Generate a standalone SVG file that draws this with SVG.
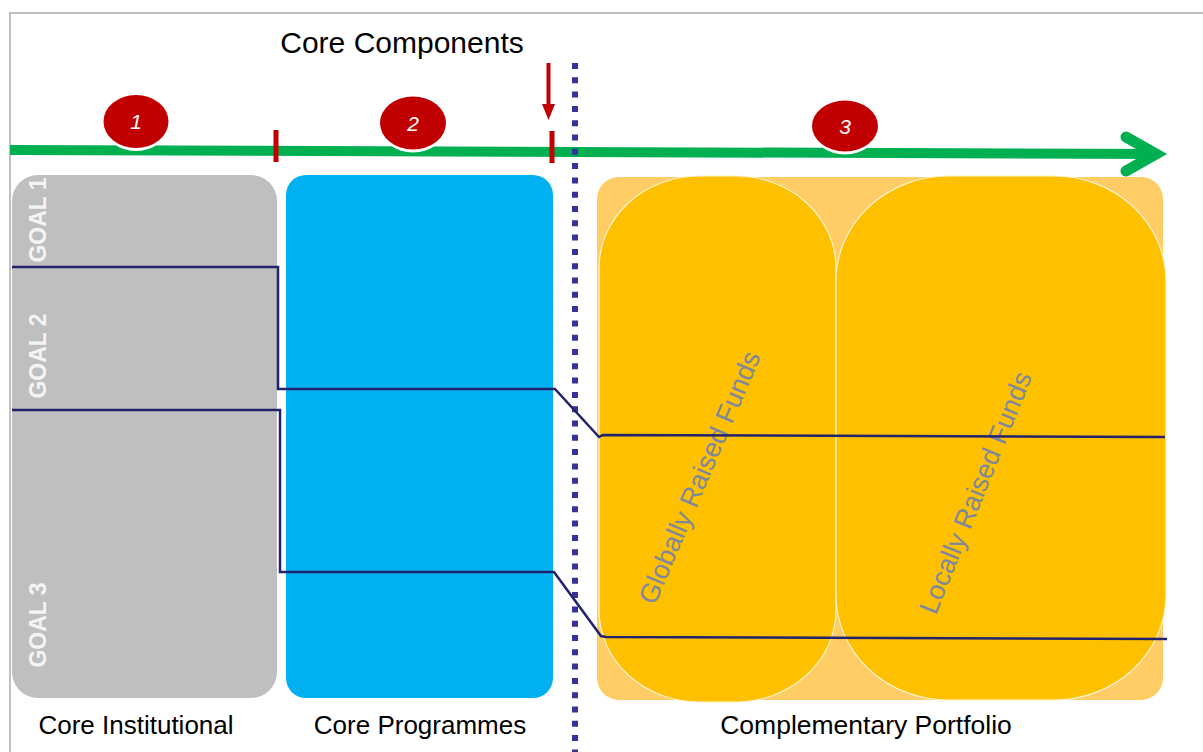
<svg xmlns="http://www.w3.org/2000/svg" width="1203" height="752" viewBox="0 0 1203 752">
<style>
  .lbl { font-family: "Liberation Sans", Arial, sans-serif; fill: #000; }
  .goal { font-family: "Liberation Sans", Arial, sans-serif; font-weight: bold; font-size: 23px; fill: #f4f4f4; text-anchor: middle; }
  .num { font-family: "Liberation Sans", Arial, sans-serif; font-style: italic; font-size: 21px; fill: #fff; text-anchor: middle; }
  .fund { font-family: "Liberation Sans", Arial, sans-serif; font-size: 27px; fill: #7d889c; text-anchor: middle; }
  .conn { fill: none; stroke: #23236b; stroke-width: 2.5; stroke-linejoin: miter; }
  .tick { fill: #c00000; }
  .pill { fill: #ffc000; stroke: #fff3d0; stroke-width: 1.2; }
</style>
<rect width="1203" height="752" fill="#fff"/>
<!-- frame -->
<path d="M10,760 L10,13 L1210,13" fill="none" stroke="#c0c0c0" stroke-width="2"/>

<text class="lbl" x="402" y="53" font-size="30" text-anchor="middle">Core Components</text>

<!-- green timeline arrow -->
<g id="timeline">
  <path d="M10,150 L1158,154" stroke="#00b050" stroke-width="10" fill="none"/>
  <path d="M1126,137 L1156,154 L1126,171" stroke="#00b050" stroke-width="11" fill="none" stroke-linecap="round" stroke-linejoin="miter"/>
</g>

<!-- boxes -->
<g id="core-institutional">
  <rect x="12" y="175" width="265" height="523" rx="26" ry="26" fill="#bfbfbf"/>
  <text class="goal" transform="translate(46,220) rotate(-90)">GOAL 1</text>
  <text class="goal" transform="translate(46,356) rotate(-90)">GOAL 2</text>
  <text class="goal" transform="translate(46,625) rotate(-90)">GOAL 3</text>
  <text class="lbl" x="136" y="734" font-size="26" text-anchor="middle">Core Institutional</text>
</g>
<g id="core-programmes">
  <rect x="286" y="175" width="267" height="523" rx="20" ry="20" fill="#00b0f0"/>
  <text class="lbl" x="420" y="734" font-size="26" text-anchor="middle">Core Programmes</text>
</g>
<g id="complementary-portfolio">
  <rect x="597" y="177" width="566" height="523" rx="22" ry="22" fill="#ffcc66"/>
  <text class="lbl" x="866" y="734" font-size="26.5" text-anchor="middle">Complementary Portfolio</text>
</g>
<g id="globally-raised">
  <rect x="599" y="176" width="237" height="526" rx="100" ry="92" class="pill"/>
  <text class="fund" transform="translate(708,481) rotate(-67)">Globally  Raised  Funds</text>
</g>
<g id="locally-raised">
  <rect x="836" y="176" width="330" height="524" rx="112" ry="105" class="pill"/>
  <text class="fund" transform="translate(984,496) rotate(-68)">Locally  Raised  Funds</text>
</g>

<!-- dotted divider -->
<line x1="575" y1="63" x2="575" y2="752" stroke="#333399" stroke-width="6" stroke-dasharray="6 8.3"/>

<!-- connectors -->
<g id="connectors">
  <polyline class="conn" points="12,267 278,267 278,389 555,389 599,437 603,435 1165,437"/>
  <polyline class="conn" points="12,410 280,410 280,572 554,572 601,636 606,637 1167,639"/>
  <g id="red-arrow">
    <line x1="548.5" y1="63" x2="548.5" y2="106" stroke="#c00000" stroke-width="4"/>
    <path d="M542,104 L555,104 L548.5,120 Z" fill="#c00000"/>
  </g>
</g>

<!-- ticks -->
<rect class="tick" x="273.5" y="130" width="5" height="32"/>
<rect class="tick" x="549.5" y="131" width="5" height="32"/>

<!-- numbered circles -->
<g id="step-1">
  <ellipse cx="136" cy="124.5" rx="32.5" ry="26.5" fill="#fff"/>
  <ellipse cx="136" cy="121.5" rx="32.5" ry="26.5" fill="#c00000"/>
  <text class="num" x="136" y="129">1</text>
</g>
<g id="step-2">
  <ellipse cx="413" cy="126" rx="33" ry="26.5" fill="#fff"/>
  <ellipse cx="413" cy="123" rx="33" ry="26.5" fill="#c00000"/>
  <text class="num" x="413" y="131">2</text>
</g>
<g id="step-3">
  <ellipse cx="845" cy="129" rx="33" ry="25.5" fill="#fff"/>
  <ellipse cx="845" cy="126" rx="33" ry="25.5" fill="#c00000"/>
  <text class="num" x="845" y="134">3</text>
</g>
</svg>
